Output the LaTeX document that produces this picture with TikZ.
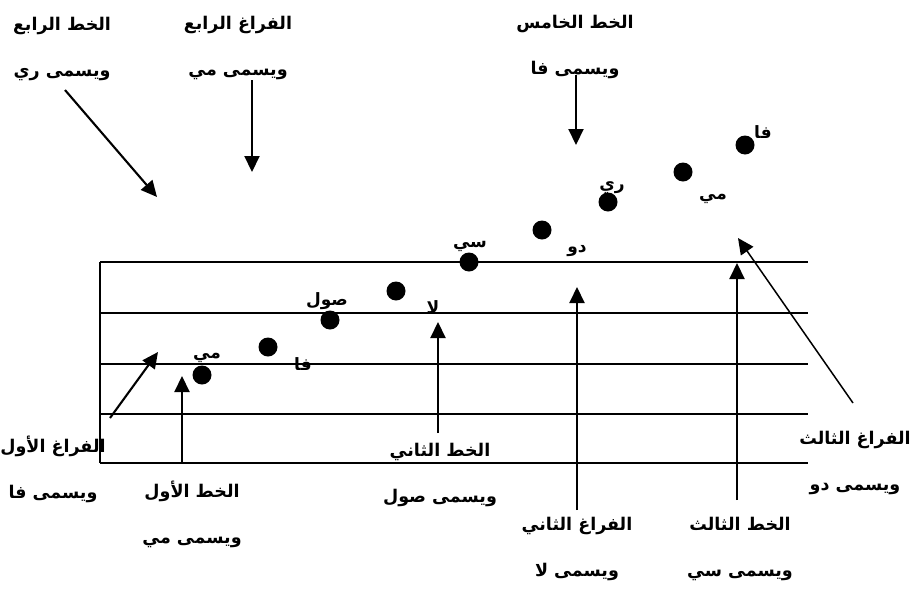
\documentclass[tikz,border=0pt]{standalone}
\usepackage{fontspec}
\usepackage{tikz}
\usetikzlibrary{arrows.meta}
\newfontfamily\arabicfont[Script=Arabic]{DejaVu Sans}
\TeXXeTstate=1
\newcommand{\ar}[1]{\beginR #1\endR}

\begin{document}
\begin{tikzpicture}[x=1pt, y=-1pt, >={Triangle[width=15pt,length=16pt]},
    staff/.style={line width=1.6pt},
    pointer/.style={->, line width=2.1pt},
    note/.style={circle, fill, inner sep=0pt, minimum size=19pt},
    notename/.style={font=\arabicfont\bfseries\fontsize{17}{17}\selectfont, inner sep=0pt},
    lbl/.style={font=\arabicfont\bfseries\fontsize{17.5}{46}\selectfont, align=center, inner sep=0pt}]
    \useasboundingbox (0,0) rectangle (911,592);

    % Staff
    \foreach \y in {262,313,364,414,463}
      \draw[staff] (100,\y) -- (808,\y);
    \draw[staff] (100,262) -- (100,463);

    % Notes
    \node[note] (e1) at (202,375) {};
    \node[note] (f1) at (268,347) {};
    \node[note] (g1) at (330,320) {};
    \node[note] (a1) at (396,291) {};
    \node[note] (b1) at (469,262) {};
    \node[note] (c2) at (542,230) {};
    \node[note] (d2) at (608,202) {};
    \node[note] (e2) at (683,172) {};
    \node[note] (f2) at (745,145) {};

    % Note names
    \node[notename] (e1t) at (207,358) {\ar{مي}};
    \node[notename] (f1t) at (303,364) {\ar{فا}};
    \node[notename] (g1t) at (327,301) {\ar{صول}};
    \node[notename] (a1t) at (433,307) {\ar{لا}};
    \node[notename] (b1t) at (470,246) {\ar{سي}};
    \node[notename] (c2t) at (577,251) {\ar{دو}};
    \node[notename] (d2t) at (612,188) {\ar{ري}};
    \node[notename] (e2t) at (713,199) {\ar{مي}};
    \node[notename] (f2t) at (763,132) {\ar{فا}};

    % Labels
    \node[lbl] (line4) at (62,49) {\ar{الخط الرابع}\\\ar{ويسمى ري}};
    \node[lbl] (space4) at (238,48) {\ar{الفراغ الرابع}\\\ar{ويسمى مي}};
    \node[lbl] (line5) at (575,47) {\ar{الخط الخامس}\\\ar{ويسمى فا}};
    \node[lbl] (space1) at (53,469) {\ar{الفراغ الأول}\\\ar{ويسمى فا}};
    \node[lbl] (line1) at (192,514) {\ar{الخط الأول}\\\ar{ويسمى مي}};
    \node[lbl] (line2) at (440,475) {\ar{الخط الثاني}\\\ar{ويسمى صول}};
    \node[lbl] (space2) at (577,549) {\ar{الفراغ الثاني}\\\ar{ويسمى لا}};
    \node[lbl] (line3) at (740,549) {\ar{الخط الثالث}\\\ar{ويسمى سي}};
    \node[lbl] (space3) at (855,463) {\ar{الفراغ الثالث}\\\ar{ويسمى دو}};

    % Arrow ends
    \coordinate (line4a) at (65,90);   \coordinate (line4b) at (157,197);
    \coordinate (space4a) at (252,80); \coordinate (space4b) at (252,172);
    \coordinate (line5a) at (576,75);  \coordinate (line5b) at (576,145);
    \coordinate (space1a) at (110,418); \coordinate (space1b) at (158,352);
    \coordinate (line1a) at (182,463); \coordinate (line1b) at (182,376);
    \coordinate (line2a) at (438,433); \coordinate (line2b) at (438,322);
    \coordinate (space2a) at (577,510); \coordinate (space2b) at (577,287);
    \coordinate (line3a) at (737,500); \coordinate (line3b) at (737,263);
    \coordinate (space3a) at (853,403); \coordinate (space3b) at (738,238);

    % Arrows
    \draw[pointer] (line4a) -- (line4b);
    \draw[pointer] (space4a) -- (space4b);
    \draw[pointer] (line5a) -- (line5b);
    \draw[pointer] (space1a) -- (space1b);
    \draw[pointer] (line1a) -- (line1b);
    \draw[pointer] (line2a) -- (line2b);
    \draw[pointer] (space2a) -- (space2b);
    \draw[pointer] (line3a) -- (line3b);
    \draw[pointer, line width=1.5pt] (space3a) -- (space3b);
  \end{tikzpicture}
\end{document}
